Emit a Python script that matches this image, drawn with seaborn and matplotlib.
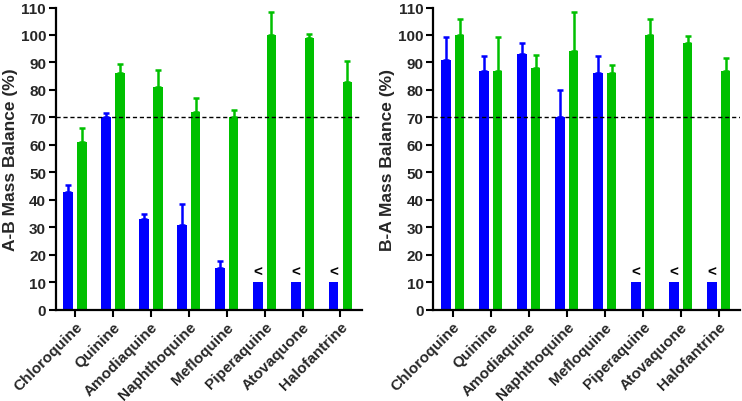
import numpy as np
import pandas as pd
import matplotlib
matplotlib.use("Agg")
import matplotlib.pyplot as plt
import seaborn as sns

drugs = ['Chloroquine', 'Quinine', 'Amodiaquine', 'Naphthoquine',
         'Mefloquine', 'Piperaquine', 'Atovaquone', 'Halofantrine']
series_names = ['Series 1', 'Series 2']

ab_blue = [43, 70, 33, 31, 15, 10, 10, 10]
ab_blue_err = [2.3, 1.7, 1.8, 7.3, 2.6, 0, 0, 0]
ab_green = [61, 86, 81, 72, 70, 100, 99, 83]
ab_green_err = [5.2, 3.3, 6.2, 5.1, 2.7, 8.2, 1.3, 7.6]

ba_blue = [91, 87, 93, 70, 86, 10, 10, 10]
ba_blue_err = [8.3, 5.3, 4.2, 10.0, 6.5, 0, 0, 0]
ba_green = [100, 87, 88, 94, 86, 100, 97, 87]
ba_green_err = [6.0, 12.3, 4.8, 14.2, 3.1, 6.0, 2.5, 4.5]

below_limit = [False, False, False, False, False, True, True, True]
threshold = 70
y_labels = ['A-B Mass Balance (%)', 'B-A Mass Balance (%)']

colors = ['#0000FF', '#00C000']

sns.set_style('ticks')
plt.rcParams['font.family'] = ['Liberation Sans', 'DejaVu Sans']
plt.rcParams['font.weight'] = 'bold'

fig = plt.figure(figsize=(7.42, 4.02), dpi=100)
ax1 = fig.add_axes([0.0751, 0.2271, 0.4124, 0.7517])
ax2 = fig.add_axes([0.5840, 0.2271, 0.4133, 0.7517])

panels = [
    (ax1, ab_blue, ab_blue_err, ab_green, ab_green_err, y_labels[0]),
    (ax2, ba_blue, ba_blue_err, ba_green, ba_green_err, y_labels[1]),
]

for ax, b, be, g, ge, ylab in panels:
    df = pd.DataFrame({
        'drug': drugs * 2,
        'series': [series_names[0]] * len(drugs) + [series_names[1]] * len(drugs),
        'value': list(b) + list(g),
    })
    sns.barplot(data=df, x='drug', y='value', hue='series', order=drugs,
                hue_order=series_names, palette=colors, width=0.72, gap=0.3,
                errorbar=None, legend=False, saturation=1, linewidth=0, ax=ax)
    for cont, vals, errs, col in zip(ax.containers, [b, g], [be, ge], colors):
        xs = np.array([p.get_x() + p.get_width() / 2 for p in cont.patches])
        vals = np.asarray(vals, float)
        errs = np.asarray(errs, float)
        m = errs > 0
        ax.errorbar(xs[m], vals[m], yerr=[np.zeros(m.sum()), errs[m]], fmt='none',
                    ecolor=col, elinewidth=1.8, capsize=2.5, capthick=1.8, zorder=3)
    xs_blue = [p.get_x() + p.get_width() / 2 for p in ax.containers[0].patches]
    for xi, v, flag in zip(xs_blue, b, below_limit):
        if flag:
            ax.text(xi, v + 3.8, '<', ha='center', va='center',
                    fontsize=11, fontweight='bold', color='black')
    ax.axhline(threshold, color='black', linestyle=(0, (3, 2)), linewidth=1.0, zorder=1)
    ax.set_ylim(0, 110)
    ax.set_xlim(-0.51, 7.56)
    ax.set_yticks(np.arange(0, 111, 10))
    ax.set_ylabel(ylab, fontsize=12.5, fontweight='bold', labelpad=2)
    ax.set_xlabel('')
    ax.tick_params(axis='both', width=1.5, length=5, labelsize=11, color='black', pad=2)
    for lbl in ax.get_yticklabels():
        lbl.set_fontweight('bold')
    ax.set_xticks(range(len(drugs)))
    ax.set_xticklabels(drugs, rotation=45, ha='right', rotation_mode='anchor',
                       fontweight='bold', fontsize=11)
    for sp in ['top', 'right']:
        ax.spines[sp].set_visible(False)
    for sp in ['left', 'bottom']:
        ax.spines[sp].set_linewidth(1.6)
        ax.spines[sp].set_color('black')

fig.savefig('out.png', dpi=100)
